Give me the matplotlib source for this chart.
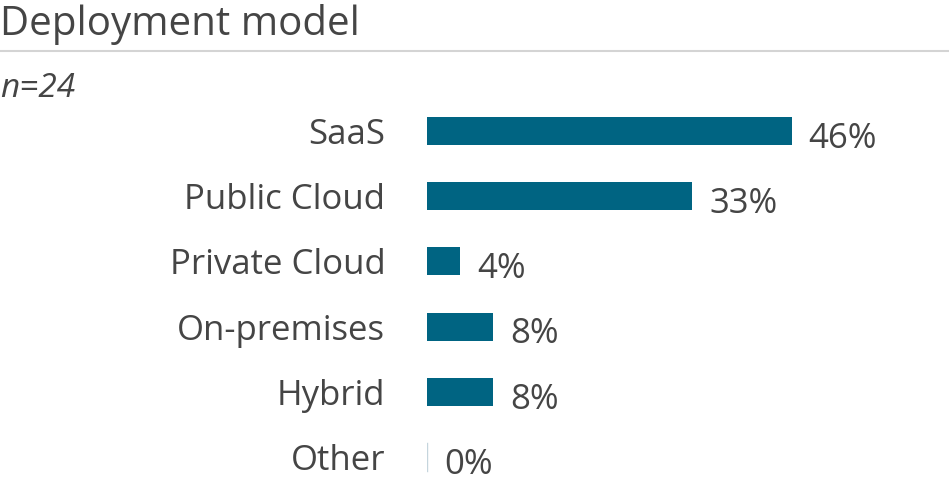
import matplotlib
matplotlib.use("Agg")
import matplotlib.pyplot as plt

categories = ["SaaS", "Public Cloud", "Private Cloud", "On-premises", "Hybrid", "Other"]
values = [45.8, 33.3, 4.2, 8.3, 8.3, 0.0]
labels = ["46%", "33%", "4%", "8%", "8%", "0%"]
title = "Deployment model"
subtitle = "n=24"

plt.rcParams['font.family'] = ['Open Sans', 'DejaVu Sans']
TXT = "#454545"
BAR = "#006482"

W, H = 949, 483
fig = plt.figure(figsize=(W / 100, H / 100), dpi=100)

# title and rule
fig.text(0 / W, 1 - 35 / H, title, fontsize=29, color=TXT, va="baseline", ha="left")
fig.add_artist(plt.Line2D([0, 1], [1 - 51 / H, 1 - 51 / H], color="#d4d4d4", lw=1.5))
fig.text(0 / W, 1 - 97 / H, subtitle, fontsize=24, color=TXT, style="italic", va="baseline", ha="left")

px_per = 7.96
left = 427 / W
top_px = 98.4
ax = fig.add_axes([left, 0, 1 - left, (H - top_px) / H])
ax.set_xlim(0, (W - 427) / px_per)
ax.set_ylim(5 + (H - 457) / 65.2, -0.5)
ypos = list(range(len(categories)))
ax.barh(ypos, values, height=0.43, color=BAR, linewidth=0)
for y, v, lab in zip(ypos, values, labels):
    if v == 0:
        ax.plot([0, 0], [y - 0.215, y + 0.215], color="#c5d5dd", lw=1)
    ax.text(v + 17 / px_per, y + 0.12, lab, fontsize=25, color=TXT, va="center", ha="left")
ax.set_yticks(ypos)
ax.set_yticklabels(categories, fontsize=25, color=TXT)
ax.tick_params(axis="y", length=0, pad=30)
ax.set_xticks([])
for s in ax.spines.values():
    s.set_visible(False)

fig.savefig("out.png", dpi=100)
